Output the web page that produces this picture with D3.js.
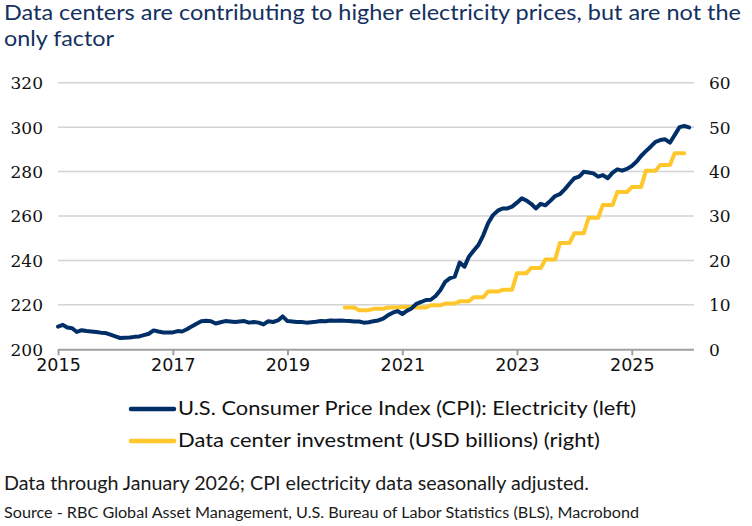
<!DOCTYPE html>
<html><head><meta charset="utf-8">
<script src="https://cdn.jsdelivr.net/npm/d3@7"></script>
<style>html,body{margin:0;padding:0;background:#fff;}svg{display:block;}</style>
</head><body>
<svg id="chart" width="752" height="526"></svg>
<script>
// ---------- DATA ----------
const cpiStart = "2015-01";           // first month of CPI series
// Monthly CPI electricity index (null = month not published)
const cpiValues = [
  210.2,211.0,209.8,209.5,207.8,208.6,208.2,208.0,207.8,207.5,207.3,206.6,   // 2015
  205.8,205.1,205.2,205.3,205.6,205.8,206.4,207.0,208.5,208.0,207.6,207.6,   // 2016
  207.6,208.2,208.0,209.0,210.3,211.5,212.6,212.8,212.6,211.6,212.2,212.7,   // 2017
  212.5,212.3,212.5,212.7,212.0,212.3,212.0,211.2,212.6,212.3,213.0,214.8,   // 2018
  212.7,212.5,212.3,212.3,212.0,212.2,212.4,212.7,212.6,213.0,212.8,213.0,   // 2019
  212.8,212.7,212.5,212.5,212.0,212.2,212.6,213.0,213.8,215.3,216.5,217.2,   // 2020
  215.9,217.4,218.4,220.5,221.3,222.2,222.3,224.0,226.7,230.4,232.0,232.7,   // 2021
  239.0,237.2,241.7,244.5,247.0,251.4,256.7,260.4,262.4,263.4,263.4,264.2,   // 2022
  266.0,268.0,267.0,265.5,263.4,265.5,264.8,266.8,269.0,269.8,272.0,274.5,   // 2023
  277.0,277.7,279.9,279.6,279.2,277.7,278.4,277.0,279.5,281.0,280.4,281.2,   // 2024
  282.5,284.5,287.0,289.2,291.2,293.4,294.2,294.5,293.0,null,300.0,300.5,    // 2025
  299.9                                                                      // 2026
];
const dcStart = "2020-01";            // first month of data center series
// Data center investment, USD billions (quarterly figure repeated monthly)
const dcValues = [
  9.4,9.4,9.4, 8.8,8.8,8.8, 9.1,9.1,9.1, 9.4,9.4,9.4,          // 2020
  9.5,9.5,9.5, 9.4,9.4,9.4, 9.9,9.9,9.9, 10.3,10.3,10.3,       // 2021
  10.8,10.8,10.8, 11.7,11.7,11.7, 13.0,13.0,13.0, 13.4,13.4,13.4, // 2022
  17.1,17.1,17.1, 18.3,18.3,18.3, 20.2,20.2,20.2, 23.9,23.9,23.9, // 2023
  26.1,26.1,26.1, 29.6,29.6,29.6, 32.5,32.5,32.5, 35.4,35.4,35.4, // 2024
  36.5,36.5,36.5, 40.2,40.2,40.2, 41.5,41.5,41.5, 44.1,44.1,44.1  // 2025
];
const leftTicks = [200,220,240,260,280,300,320];
const rightTicks = [0,10,20,30,40,50,60];
const yearTicks = [2015,2017,2019,2021,2023,2025];

const titleLines = ["Data centers are contributing to higher electricity prices, but are not the","only factor"];
const legendLabels = ["U.S. Consumer Price Index (CPI): Electricity (left)","Data center investment (USD billions) (right)"];
const notes = ["Data through January 2026; CPI electricity data seasonally adjusted.",
               "Source - RBC Global Asset Management, U.S. Bureau of Labor Statistics (BLS), Macrobond"];

// ---------- BUILD ----------
const parseM = d3.timeParse("%Y-%m");
function toSeries(start, vals){
  const s = parseM(start);
  return vals.map((v,i)=>({date:d3.timeMonth.offset(s,i), value:v})).filter(d=>d.value!=null);
}
const cpi = toSeries(cpiStart, cpiValues);
const dc = toSeries(dcStart, dcValues);

const BLUE = "#002f67", YELLOW = "#ffc72c", GRID = "#d3d3d3";
const svg = d3.select("#chart");
svg.append("rect").attr("width",752).attr("height",526).attr("fill","#fff");

const M = {left:58, right:694, top:82.7, bottom:349.3};
const x = d3.scaleTime().domain([new Date(2015,0,1), new Date(2026,1,1)]).range([M.left, M.right]);
const yL = d3.scaleLinear().domain([200,320]).range([M.bottom, M.top]);
const yR = d3.scaleLinear().domain([0,60]).range([M.bottom, M.top]);

const sansFont = "Lato, 'Open Sans', sans-serif";
const numFont = "'DejaVu Serif', serif";

// gridlines
svg.append("g").selectAll("line").data(leftTicks.filter(t=>t>200)).join("line")
  .attr("x1",M.left).attr("x2",M.right).attr("y1",d=>yL(d)).attr("y2",d=>yL(d))
  .attr("stroke",GRID).attr("stroke-width",1.5);

// left axis
const gL = svg.append("g").attr("transform",`translate(${M.left-15},0)`)
  .call(d3.axisLeft(yL).tickValues(leftTicks).tickSize(0).tickPadding(0));
gL.select(".domain").remove();
gL.selectAll("text").attr("font-family",numFont).attr("font-size",17).attr("fill","#111").attr("dy","0.35em");

// right axis
const gR = svg.append("g").attr("transform",`translate(${M.right+15},0)`)
  .call(d3.axisRight(yR).tickValues(rightTicks).tickSize(0).tickPadding(0));
gR.select(".domain").remove();
gR.selectAll("text").attr("font-family",numFont).attr("font-size",17).attr("fill","#111").attr("dy","0.35em");

// bottom axis
const gB = svg.append("g").attr("transform",`translate(0,${M.bottom})`)
  .call(d3.axisBottom(x).tickValues(yearTicks.map(y=>new Date(y,0,1))).tickFormat(d3.timeFormat("%Y")).tickSize(6).tickPadding(3));
gB.select(".domain").attr("d",`M${M.left},0.5H${M.right}`).attr("stroke","#a0a0a0").attr("stroke-width",2);
gB.selectAll(".tick line").attr("stroke","#a0a0a0").attr("stroke-width",2);
gB.selectAll("text").attr("font-family","'DejaVu Sans', sans-serif").attr("font-size",17.5).attr("fill","#111");

// lines
const lineL = d3.line().x(d=>x(d.date)).y(d=>yL(d.value));
const lineR = d3.line().x(d=>x(d.date)).y(d=>yR(d.value));
svg.append("path").datum(dc).attr("d",lineR).attr("fill","none").attr("stroke",YELLOW)
  .attr("stroke-width",4).attr("stroke-linejoin","round").attr("stroke-linecap","round");
svg.append("path").datum(cpi).attr("d",lineL).attr("fill","none").attr("stroke",BLUE)
  .attr("stroke-width",4).attr("stroke-linejoin","round").attr("stroke-linecap","round");

// title
const titleBase = [20, 45.5], titleW = [737, 110];
titleLines.forEach((t,i)=>{
  svg.append("text").attr("x",4).attr("y",titleBase[i]).text(t)
    .attr("font-family",sansFont).attr("font-size",20.5).attr("fill","#14315f")
    .attr("textLength",titleW[i]).attr("lengthAdjust","spacingAndGlyphs");
});

// legend
const legColors = [BLUE, YELLOW], legY = [409, 441], legBase=[415, 447], legW=[458, 422];
legendLabels.forEach((t,i)=>{
  svg.append("line").attr("x1",131).attr("x2",174).attr("y1",legY[i]).attr("y2",legY[i])
    .attr("stroke",legColors[i]).attr("stroke-width",4.5).attr("stroke-linecap","round");
  svg.append("text").attr("x",178).attr("y",legBase[i]).text(t)
    .attr("font-family",sansFont).attr("font-size",19).attr("fill","#111")
    .attr("textLength",legW[i]).attr("lengthAdjust","spacingAndGlyphs");
});

// notes
const noteBase=[490,517.5], noteSize=[18.5,15.5], noteW=[585,635];
notes.forEach((t,i)=>{
  svg.append("text").attr("x",4).attr("y",noteBase[i]).text(t)
    .attr("font-family",sansFont).attr("font-size",noteSize[i]).attr("fill","#1a1a1a")
    .attr("textLength",noteW[i]).attr("lengthAdjust","spacingAndGlyphs");
});
</script>
</body></html>
